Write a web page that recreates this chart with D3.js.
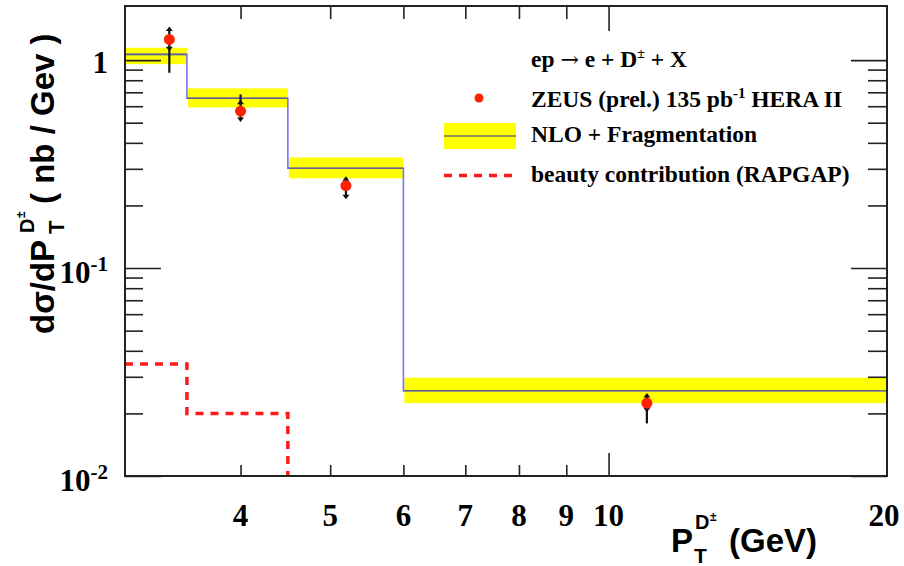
<!DOCTYPE html>
<html><head><meta charset="utf-8">
<script src="https://cdn.jsdelivr.net/npm/d3@7"></script>
<style>
body{margin:0;background:#fff;}
svg{display:block;}
</style></head>
<body>
<svg id="c" width="904" height="566"></svg>
<script>
// ---- data ----
const binEdges = [3, 3.5, 4.5, 6, 20];
const nloCentral = [1.065, 0.655, 0.302, 0.0257];
const nloUpper = [1.146, 0.731, 0.340, 0.0297];
const nloLower = [0.956, 0.592, 0.270, 0.0224];
const beauty = [0.0346, 0.020, 0.006, 0.002];
const dataX = [3.35, 4.0, 5.2, 11.0];
const dataY = [1.257, 0.568, 0.249, 0.0224];
const statUp = [1.42, 0.630, 0.270, 0.0245];
const statLo = [1.126, 0.515, 0.219, 0.0207];
const totUp = [1.42, 0.684, 0.270, 0.0245];
const totLo = [0.869, 0.515, 0.219, 0.0179];
const xTickLabels = [4, 5, 6, 7, 8, 9, 10, 20];
const xMinorTicks = [4, 5, 6, 7, 8, 9];
const xMajorTicks = [10];
const yMajorTicks = [0.01, 0.1, 1];
const yMinorTicks = [0.02,0.03,0.04,0.05,0.06,0.07,0.08,0.09,0.2,0.3,0.4,0.5,0.6,0.7,0.8,0.9];
const yTickLabels = [{v:1, base:"1", exp:""},{v:0.1, base:"10", exp:"-1"},{v:0.01, base:"10", exp:"-2"}];

// ---- layout ----
const L = 125, R = 887, T = 6, B = 476;
const svg = d3.select("#c");
const x = d3.scaleLog().domain([3, 20]).range([L, R]);
const y = d3.scaleLog().domain([0.01, 1.82]).range([B, T]);

const serif = "'Liberation Serif','Times New Roman',serif";
const sans = "'Liberation Sans',Arial,Helvetica,sans-serif";

svg.append("defs").append("clipPath").attr("id","clip")
  .append("rect").attr("x",L).attr("y",T).attr("width",R-L).attr("height",B-T);
const plot = svg.append("g").attr("clip-path","url(#clip)");

const bins = nloCentral.map((v,i)=>({lo:binEdges[i], hi:binEdges[i+1], v, up:nloUpper[i], dn:nloLower[i], b:beauty[i]}));

// yellow bands
plot.selectAll("rect.band").data(bins).enter().append("rect")
  .attr("x", d=>x(d.lo)+1).attr("width", d=>x(d.hi)-x(d.lo)-1)
  .attr("y", d=>y(d.up)).attr("height", d=>y(d.dn)-y(d.up))
  .attr("fill","#ffff00");

// blue step line
const stepPts = [];
bins.forEach(d=>{stepPts.push([d.lo,d.v]); stepPts.push([d.hi,d.v]);});
plot.append("path").datum(stepPts)
  .attr("d", d3.line().x(d=>x(d[0])).y(d=>y(d[1])))
  .attr("fill","none").attr("stroke","#7373ff").attr("stroke-width",1.6);
// gray central lines
plot.selectAll("line.cen").data(bins).enter().append("line")
  .attr("x1", d=>x(d.lo)).attr("x2", d=>x(d.hi))
  .attr("y1", d=>y(d.v)).attr("y2", d=>y(d.v))
  .attr("stroke","#606060").attr("stroke-opacity",0.75).attr("stroke-width",1.6);

// beauty dashed
const bPts = [];
bins.forEach(d=>{bPts.push([d.lo,d.b]); bPts.push([d.hi,d.b]);});
plot.append("path").datum(bPts)
  .attr("d", d3.line().x(d=>x(d[0])).y(d=>y(d[1])))
  .attr("fill","none").attr("stroke","#ff1a1a").attr("stroke-width",3.5)
  .attr("stroke-dasharray","8,7");

// data points
const pts = dataX.map((v,i)=>({x:v, y:dataY[i], su:statUp[i], sl:statLo[i], tu:totUp[i], tl:totLo[i]}));
const pg = plot.selectAll("g.pt").data(pts).enter().append("g");
pg.append("line").attr("x1",d=>x(d.x)).attr("x2",d=>x(d.x))
  .attr("y1",d=>y(d.tu)).attr("y2",d=>y(d.tl))
  .attr("stroke","#111").attr("stroke-width",2.2);
pg.append("path").attr("d", d=>{const cx=x(d.x), cy=y(d.su); return `M${cx-3.5},${cy+2.5}L${cx+3.5},${cy+2.5}L${cx},${cy-2}Z`;}).attr("fill","#111");
pg.append("path").attr("d", d=>{const cx=x(d.x), cy=y(d.sl); return `M${cx-3.5},${cy-2.5}L${cx+3.5},${cy-2.5}L${cx},${cy+2}Z`;}).attr("fill","#111");
pg.append("circle").attr("cx",d=>x(d.x)).attr("cy",d=>y(d.y)).attr("r",5.5).attr("fill","#ff2200");

// ---- axes ----
const axG = svg.append("g");
function tickStyle(g){ g.select(".domain").remove(); g.selectAll("line").attr("stroke","#222").attr("stroke-width",1.6); g.selectAll("text").remove(); }
axG.append("g").attr("transform",`translate(0,${B})`).call(d3.axisBottom(x).tickValues(xMinorTicks).tickSize(-11)).call(tickStyle);
axG.append("g").attr("transform",`translate(0,${B})`).call(d3.axisBottom(x).tickValues(xMajorTicks).tickSize(-23)).call(tickStyle);
axG.append("g").attr("transform",`translate(0,${T})`).call(d3.axisTop(x).tickValues(xMinorTicks).tickSize(-13)).call(tickStyle);
axG.append("g").attr("transform",`translate(0,${T})`).call(d3.axisTop(x).tickValues(xMajorTicks).tickSize(-25)).call(tickStyle);
axG.append("g").attr("transform",`translate(${L},0)`).call(d3.axisLeft(y).tickValues(yMinorTicks).tickSize(-18)).call(tickStyle);
axG.append("g").attr("transform",`translate(${L},0)`).call(d3.axisLeft(y).tickValues(yMajorTicks).tickSize(-36)).call(tickStyle);
axG.append("g").attr("transform",`translate(${R},0)`).call(d3.axisRight(y).tickValues(yMinorTicks).tickSize(-19)).call(tickStyle);
axG.append("g").attr("transform",`translate(${R},0)`).call(d3.axisRight(y).tickValues(yMajorTicks).tickSize(-36)).call(tickStyle);

// frame
svg.append("rect").attr("x",L).attr("y",T).attr("width",R-L).attr("height",B-T)
  .attr("fill","none").attr("stroke","#222").attr("stroke-width",2);

// x tick labels
svg.append("g").selectAll("text").data(xTickLabels).enter().append("text")
  .attr("x", d=>x(d) - (d===20?3:0)).attr("y", 526)
  .attr("text-anchor","middle").attr("font-family",serif).attr("font-weight","bold")
  .attr("font-size",31).attr("fill","#000").text(d=>d);

// y tick labels
const yl = svg.append("g").selectAll("text").data(yTickLabels).enter().append("text")
  .attr("x",108).attr("y", d=>y(d.v)+ (d.exp? 15 : 13))
  .attr("text-anchor","end").attr("font-family",serif).attr("font-weight","bold")
  .attr("font-size",31).attr("fill","#000");
yl.append("tspan").text(d=>d.base);
yl.append("tspan").attr("font-size",21).attr("dy",-12).text(d=>d.exp);

// ---- axis titles ----
const xt = svg.append("g").attr("font-family",sans).attr("font-weight","bold").attr("fill","#000");
xt.append("text").attr("x",671).attr("y",552).attr("font-size",33).text("P");
xt.append("text").attr("x",694).attr("y",563).attr("font-size",21).text("T");
xt.append("text").attr("x",695).attr("y",529).attr("font-size",20).text("D");
xt.append("text").attr("x",710).attr("y",521).attr("font-size",12).text("±");
xt.append("text").attr("x",729).attr("y",552).attr("font-size",33).text("(GeV)");

const yt = svg.append("g").attr("transform","translate(54,334) rotate(-90)")
  .attr("font-family",sans).attr("font-weight","bold").attr("fill","#000");
yt.append("text").attr("x",0).attr("y",0).attr("font-size",33).text("dσ/dP");
yt.append("text").attr("x",100).attr("y",10).attr("font-size",22).text("T");
yt.append("text").attr("x",101).attr("y",-20).attr("font-size",20).text("D");
yt.append("text").attr("x",116).attr("y",-29).attr("font-size",12).text("±");
yt.append("text").attr("x",130).attr("y",0).attr("font-size",33).text("( nb / Gev )");

// ---- legend ----
const lg = svg.append("g").attr("font-family",serif).attr("font-weight","bold").attr("font-size",23.5).attr("fill","#000");
const l1 = lg.append("text").attr("x",531).attr("y",67);
l1.append("tspan").text("ep ");
l1.append("tspan").attr("font-family","'DejaVu Serif',serif").attr("font-weight","normal").attr("font-size",22).text("→");
l1.append("tspan").text(" e + D");
l1.append("tspan").attr("font-size",14).attr("dy",-9).text("±");
l1.append("tspan").attr("dy",9).text(" + X");
const l2 = lg.append("text").attr("x",531).attr("y",107);
l2.append("tspan").text("ZEUS (prel.) 135 pb");
l2.append("tspan").attr("font-size",15).attr("dy",-9).text("-1");
l2.append("tspan").attr("dy",9).text(" HERA II");
lg.append("text").attr("x",531).attr("y",142).text("NLO + Fragmentation");
lg.append("text").attr("x",531).attr("y",182).text("beauty contribution (RAPGAP)");

svg.append("circle").attr("cx",479).attr("cy",98).attr("r",4.5).attr("fill","#ff2200");
svg.append("rect").attr("x",444).attr("y",123).attr("width",72).attr("height",26).attr("fill","#ffff00");
svg.append("line").attr("x1",444).attr("x2",516).attr("y1",136).attr("y2",136).attr("stroke","#707070").attr("stroke-width",1.6);
svg.append("line").attr("x1",444).attr("x2",516).attr("y1",175.5).attr("y2",175.5).attr("stroke","#ff1a1a").attr("stroke-width",3.5).attr("stroke-dasharray","8,7");
</script>
</body></html>
